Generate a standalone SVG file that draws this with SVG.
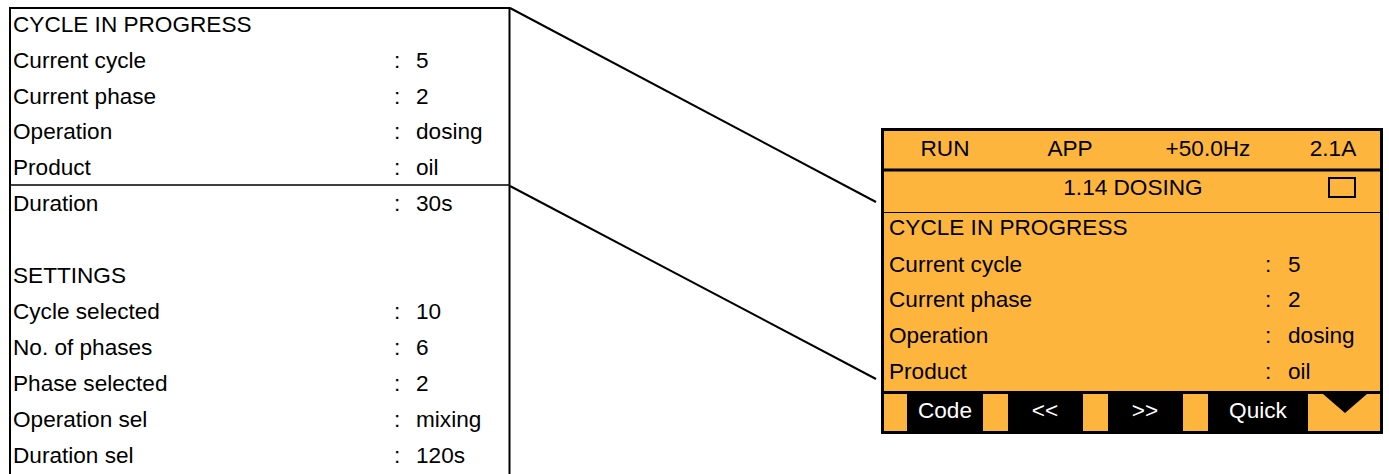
<svg xmlns="http://www.w3.org/2000/svg" width="1389" height="474" viewBox="0 0 1389 474">
  <style>
    text { font-family: "Liberation Sans", Arial, sans-serif; font-size: 22.6px; fill: #000; }
    .mid { text-anchor: middle; }
    .btn { fill: #fff; text-anchor: middle; }
    .frame { fill: none; stroke: #000; }
    .panel { fill: #FDB53E; }
  </style>

  <!-- Parameter list (full menu contents) -->
  <g id="menu-list">
    <rect x="0" y="0" width="1389" height="474" fill="#fff"/>
    <path class="frame" stroke-width="2" d="M10 474 V8 H509.5 V474"/>
    <line x1="10" y1="185" x2="509.5" y2="185" stroke="#000" stroke-width="1.6"/>
    <g>
      <text x="13" y="32">CYCLE IN PROGRESS</text>
      <text x="13" y="68">Current cycle</text>
      <text x="13" y="104">Current phase</text>
      <text x="13" y="139">Operation</text>
      <text x="13" y="175">Product</text>
      <text x="13" y="211">Duration</text>
      <text x="13" y="283">SETTINGS</text>
      <text x="13" y="319">Cycle selected</text>
      <text x="13" y="355">No. of phases</text>
      <text x="13" y="391">Phase selected</text>
      <text x="13" y="427">Operation sel</text>
      <text x="13" y="463">Duration sel</text>
    </g>
    <g>
      <text x="394" y="68">:</text>
      <text x="394" y="104">:</text>
      <text x="394" y="139">:</text>
      <text x="394" y="175">:</text>
      <text x="394" y="211">:</text>
      <text x="394" y="319">:</text>
      <text x="394" y="355">:</text>
      <text x="394" y="391">:</text>
      <text x="394" y="427">:</text>
      <text x="394" y="463">:</text>
    </g>
    <g>
      <text x="416" y="68">5</text>
      <text x="416" y="104">2</text>
      <text x="416" y="139">dosing</text>
      <text x="416" y="175">oil</text>
      <text x="416" y="211">30s</text>
      <text x="416" y="319">10</text>
      <text x="416" y="355">6</text>
      <text x="416" y="391">2</text>
      <text x="416" y="427">mixing</text>
      <text x="416" y="463">120s</text>
    </g>
  </g>

  <!-- Connectors from the visible window to the display -->
  <g id="connectors" stroke="#000" stroke-width="2" fill="none">
    <line x1="510" y1="8" x2="876" y2="202"/>
    <line x1="510" y1="186" x2="876" y2="379"/>
  </g>

  <!-- Graphic display terminal -->
  <g id="display">
    <rect class="panel" x="882.5" y="129.5" width="499" height="303"/>
    <!-- status bar -->
    <text class="mid" x="945" y="156">RUN</text>
    <text class="mid" x="1070" y="156">APP</text>
    <text class="mid" x="1208" y="156">+50.0Hz</text>
    <text class="mid" x="1333" y="156">2.1A</text>
    <line x1="882.5" y1="170" x2="1381.5" y2="170" stroke="#000" stroke-width="3"/>
    <!-- menu title -->
    <text class="mid" x="1133" y="195">1.14 DOSING</text>
    <rect class="frame" x="1329" y="178" width="26" height="19" stroke-width="2"/>
    <line x1="882.5" y1="212.5" x2="1381.5" y2="212.5" stroke="#000" stroke-width="1.2"/>
    <!-- content -->
    <text x="889" y="235">CYCLE IN PROGRESS</text>
    <text x="889" y="272">Current cycle</text>
    <text x="889" y="307">Current phase</text>
    <text x="889" y="343">Operation</text>
    <text x="889" y="379">Product</text>
    <text x="1265" y="272">:</text>
    <text x="1265" y="307">:</text>
    <text x="1265" y="343">:</text>
    <text x="1265" y="379">:</text>
    <text x="1288" y="272">5</text>
    <text x="1288" y="307">2</text>
    <text x="1288" y="343">dosing</text>
    <text x="1288" y="379">oil</text>
    <!-- function key bar -->
    <rect x="882.5" y="391" width="499" height="41.5" fill="#000"/>
    <rect class="panel" x="884" y="394" width="23" height="38"/>
    <rect class="panel" x="983" y="394" width="25" height="38"/>
    <rect class="panel" x="1083" y="394" width="25" height="38"/>
    <rect class="panel" x="1183" y="394" width="25" height="38"/>
    <rect class="panel" x="1308" y="394" width="73" height="38"/>
    <polygon points="1323,394 1367,394 1345,413" fill="#000"/>
    <text class="btn" x="945" y="418">Code</text>
    <text class="btn" x="1045" y="418">&lt;&lt;</text>
    <text class="btn" x="1145" y="418">&gt;&gt;</text>
    <text class="btn" x="1258" y="418">Quick</text>
    <rect class="frame" x="882.5" y="129.5" width="499" height="303" stroke-width="3"/>
  </g>
</svg>
